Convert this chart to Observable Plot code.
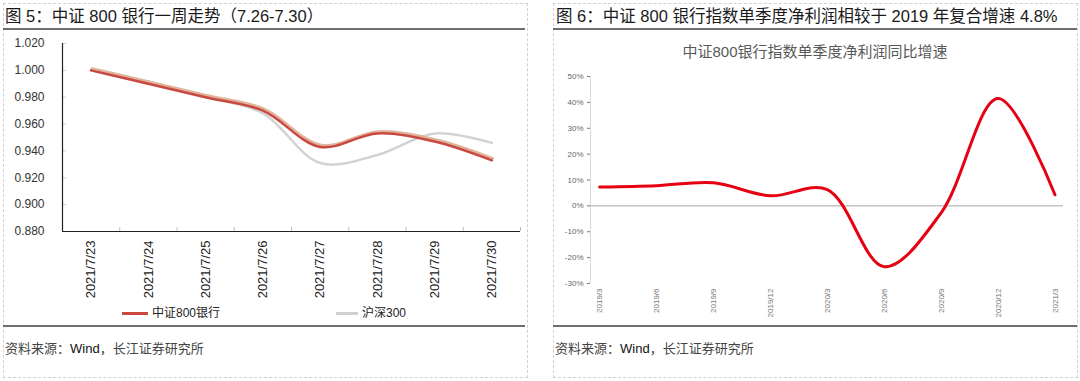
<!DOCTYPE html>
<html><head><meta charset="utf-8">
<script src="https://cdn.jsdelivr.net/npm/d3@7"></script>
<script src="https://cdn.jsdelivr.net/npm/@observablehq/plot@0.6"></script>
<style>
body{margin:0;background:#fff;font-family:"Liberation Sans","Noto Sans CJK SC",sans-serif;}
#wrap{position:relative;width:1080px;height:381px;overflow:hidden;background:#fff;}
.abs{position:absolute;}
.title{font-size:16.5px;color:#1a1a1a;white-space:nowrap;line-height:20px;}
.rule{height:0;border-top:2px solid #6e6e6e;}
.dash{border:1px dashed #d0d0d0;box-sizing:border-box;}
.src{font-size:13px;color:#444;white-space:nowrap;line-height:16px;}
.src b{font-weight:normal;color:#111;}
.leg{font-size:12px;color:#222;white-space:nowrap;line-height:14px;}
.sw{height:3px;}
.sub{font-size:15px;color:#595959;white-space:nowrap;line-height:18px;width:524px;text-align:center;}
</style></head>
<body><div id="wrap">
<div class="abs dash" style="left:3px;top:3px;width:525px;height:375px;"></div>
<div class="abs dash" style="left:553px;top:3px;width:525px;height:375px;"></div>
<div class="abs title" style="left:5px;top:6px;">图 5：中证 800 银行一周走势（7.26-7.30）</div>
<div class="abs title" style="left:556px;top:6px;">图 6：中证 800 银行指数单季度净利润相较于 2019 年复合增速 4.8%</div>
<div class="abs rule" style="left:3px;top:28px;width:522px;"></div>
<div class="abs rule" style="left:553px;top:28px;width:524px;"></div>
<div class="abs rule" style="left:3px;top:325px;width:522px;"></div>
<div class="abs rule" style="left:553px;top:325px;width:524px;"></div>
<div id="left" class="abs" style="left:0;top:30px;"></div>
<div id="right" class="abs" style="left:553px;top:65px;"></div>
<div class="abs sub" style="left:553px;top:43px;">中证800银行指数单季度净利润同比增速</div>
<div class="abs sw" style="left:122px;top:312px;width:26px;background:#c94840;"></div>
<div class="abs leg" style="left:152px;top:306px;">中证800银行</div>
<div class="abs sw" style="left:336px;top:312px;width:22px;background:#d0d0d0;"></div>
<div class="abs leg" style="left:362px;top:306px;">沪深300</div>
<div class="abs src" style="left:5px;top:341px;">资料来源：<b>Wind</b>，长江证券研究所</div>
<div class="abs src" style="left:555px;top:341px;">资料来源：<b>Wind</b>，长江证券研究所</div>
</div>
<script>
// ---- Left chart data ----
const leftDates = ["2021/7/23","2021/7/24","2021/7/25","2021/7/26","2021/7/27","2021/7/28","2021/7/29","2021/7/30"];
const bank800 = [1.000, 0.990, 0.980, 0.970, 0.943, 0.953, 0.947, 0.933];
const hs300   = [1.000, 0.990, 0.980, 0.968, 0.931, 0.937, 0.953, 0.946];
const leftYTicks = [0.88, 0.90, 0.92, 0.94, 0.96, 0.98, 1.00, 1.02];
// ---- Right chart data ----
const quarters = ["2019/3","2019/6","2019/9","2019/12","2020/3","2020/6","2020/9","2020/12","2021/3"];
const profitYoY = [7.3, 7.8, 8.9, 3.9, 6.3, -23.5, -2.7, 41.5, 4.3];
const rightYTicks = [-30, -20, -10, 0, 10, 20, 30, 40, 50];

const leftIdx = leftDates.map((d, i) => i);
const xDomL = [-0.5, leftDates.length - 0.5];
const leftBounds = leftIdx.map(i => i + 0.5);
const yDomL = [leftYTicks[0], leftYTicks[leftYTicks.length - 1]];

const L = Plot.plot({
  width: 527, height: 275,
  marginTop: 13, marginBottom: 74, marginLeft: 62, marginRight: 7,
  x: {type: "linear", domain: xDomL, label: null},
  y: {domain: yDomL, label: null},
  style: {fontFamily: "Liberation Sans, Arial, sans-serif", color: "#333", background: "transparent", overflow: "visible"},
  marks: [
    Plot.axisY(leftYTicks, {tickSize: 0, tickPadding: 18, tickFormat: d3.format(".3f"), fontSize: 12, fill: "#333", label: null}),
    Plot.axisY(leftYTicks, {tickSize: -4, fill: "none", stroke: "#d0d0d0", label: null}),
    Plot.axisX(leftIdx, {tickSize: 0, tickPadding: 9, tickRotate: -90, tickFormat: i => leftDates[i], fontSize: 13, fill: "#222", label: null}),
    Plot.axisX(leftBounds, {tickSize: -4, fill: "none", stroke: "#c0c0c0", label: null}),
    Plot.ruleX([xDomL[0]], {stroke: "#222", strokeWidth: 1.2}),
    Plot.ruleY([yDomL[0]], {stroke: "#222", strokeWidth: 1.2}),
    Plot.line(hs300, {x: (d, i) => i, y: d => d, curve: "catmull-rom", stroke: "#d2d2d2", strokeWidth: 2.5}),
    Plot.line(bank800, {x: (d, i) => i, y: d => d, curve: "catmull-rom", stroke: "#e0b39b", strokeWidth: 2.5, dx: 1, dy: -2}),
    Plot.line(bank800, {x: (d, i) => i, y: d => d, curve: "catmull-rom", stroke: "#c94840", strokeWidth: 2.5})
  ]
});
document.getElementById("left").appendChild(L);

const xDomR = [-0.16, quarters.length - 1 + 0.15];
const R = Plot.plot({
  width: 524, height: 255,
  marginTop: 11, marginBottom: 37, marginLeft: 37, marginRight: 14,
  x: {type: "linear", domain: xDomR, label: null},
  y: {domain: [rightYTicks[0], rightYTicks[rightYTicks.length - 1]], label: null},
  style: {fontFamily: "Liberation Sans, Arial, sans-serif", color: "#555", background: "transparent", overflow: "visible"},
  marks: [
    Plot.ruleX([xDomR[0]], {stroke: "#d9d9d9"}),
    Plot.ruleY([0], {stroke: "#a6a6a6"}),
    Plot.axisY(rightYTicks, {tickSize: 3, tickPadding: 4, tickFormat: d => d + "%", fontSize: 8, fill: "#666", stroke: "#777", label: null}),
    Plot.axisX(quarters.map((q, i) => i), {tickSize: 0, tickPadding: 5, tickRotate: -90, tickFormat: i => quarters[i], fontSize: 8, fill: "#777", label: null}),
    Plot.line(profitYoY, {x: (d, i) => i, y: d => d, curve: "catmull-rom", stroke: "#e60012", strokeWidth: 3})
  ]
});
document.getElementById("right").appendChild(R);
</script>
</body></html>
